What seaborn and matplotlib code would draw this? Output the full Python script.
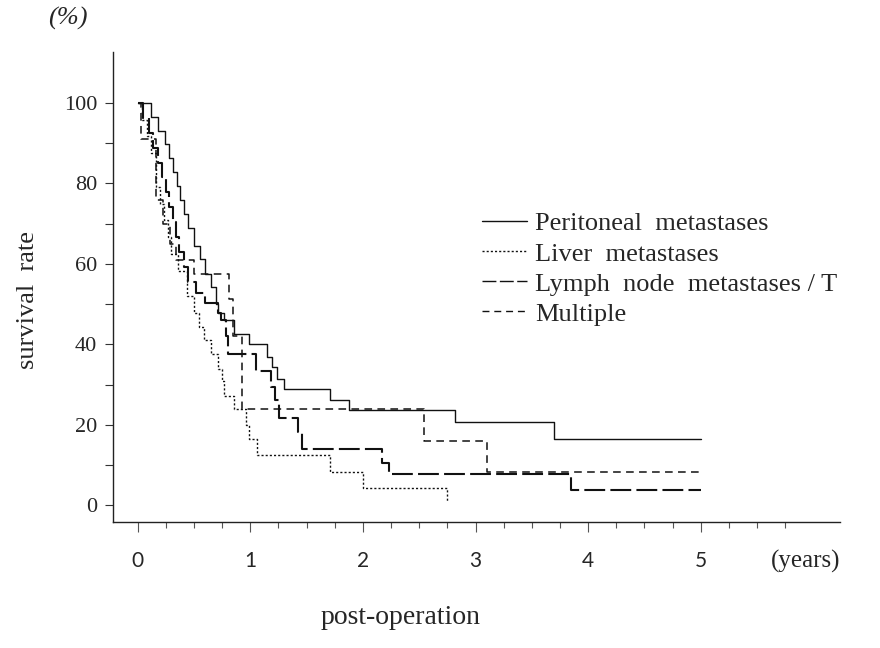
import numpy as np
import pandas as pd
import matplotlib
matplotlib.use("Agg")
import matplotlib.pyplot as plt
from matplotlib.ticker import FixedLocator
import seaborn as sns

# survival curves (step times in years, survival in %)
peri_t = [0, 0.12, 0.18, 0.24, 0.28, 0.31, 0.35, 0.38, 0.41, 0.45, 0.5, 0.55, 0.6, 0.65,
          0.695, 0.715, 0.77, 0.86, 0.99, 1.15, 1.19, 1.24, 1.30, 1.71, 1.88, 2.82, 3.70, 5.0]
peri_s = [100, 96.6, 93.1, 89.7, 86.2, 82.8, 79.3, 75.9, 72.4, 69.0, 64.5, 61.1, 57.6, 54.2,
          50.0, 47.7, 46.0, 42.7, 40.0, 36.8, 34.3, 31.4, 28.8, 26.2, 23.8, 20.7, 16.5, 16.5]

liver_t = [0, 0.04, 0.08, 0.12, 0.16, 0.2, 0.23, 0.27, 0.3, 0.36, 0.44, 0.5, 0.545, 0.59,
           0.65, 0.71, 0.75, 0.77, 0.855, 0.96, 0.99, 1.06, 1.71, 2.0, 2.75]
liver_s = [100, 95.8, 91.7, 87.5, 79.2, 75.0, 70.8, 66.7, 62.5, 58.3, 52.0, 47.7, 44.3, 41.0,
           37.7, 34.0, 31.0, 27.3, 24.0, 20.0, 16.5, 12.4, 8.3, 4.2, 0.8]

lymph_t = [0, 0.05, 0.1, 0.14, 0.18, 0.22, 0.25, 0.28, 0.31, 0.34, 0.37, 0.41, 0.45, 0.52,
           0.6, 0.71, 0.74, 0.785, 0.80, 1.05, 1.18, 1.22, 1.255, 1.42, 1.46, 2.17, 2.23, 3.85, 5.0]
lymph_s = [100, 96.3, 92.6, 88.9, 85.2, 81.5, 77.8, 74.1, 70.4, 66.7, 63.0, 59.3, 55.6, 52.7,
           50.2, 47.7, 46.0, 42.2, 37.7, 33.3, 29.4, 26.3, 21.7, 18.2, 14.0, 10.5, 7.7, 3.9, 3.9]

mult_t = [0, 0.03, 0.16, 0.225, 0.29, 0.34, 0.5, 0.81, 0.85, 0.93, 2.54, 3.1, 5.0]
mult_s = [100, 91, 76, 70, 65, 61, 57.5, 51.4, 42.2, 24, 16, 8.3, 8.3]

labels = ["Peritoneal  metastases", "Liver  metastases",
          "Lymph  node  metastases / T", "Multiple"]
x_ticks = [0, 1, 2, 3, 4, 5]
x_minor = [0.25, 0.5, 0.75, 1.25, 1.5, 1.75, 2.25, 2.5, 2.75, 3.25, 3.5, 3.75,
           4.25, 4.5, 4.75, 5.25, 5.5, 5.75]
y_ticks = [0, 20, 40, 60, 80, 100]
y_minor = [10, 30, 50, 70, 90]

curves = [(peri_t, peri_s, "-", 1.0),
          (liver_t, liver_s, (0, (1.5, 1.5)), 1.0),
          (lymph_t, lymph_s, (0, (10, 2.5)), 1.5),
          (mult_t, mult_s, (0, (5, 3.5)), 1.1)]

sns.set_style("white")
plt.rcParams['font.family'] = ['Liberation Serif', 'DejaVu Serif']

fig = plt.figure(figsize=(8.8, 6.48), dpi=100)
ax = fig.add_axes([0.128, 0.194, 0.827, 0.726])

for (t, s, ls, lw), lab in zip(curves, labels):
    df = pd.DataFrame({"t": t, "s": s})
    sns.lineplot(data=df, x="t", y="s", ax=ax, color="#111111", linestyle=ls,
                 linewidth=lw, drawstyle="steps-post", estimator=None, sort=False,
                 label=lab)

ax.set_xlim(-0.222, 6.24)
ax.set_ylim(-4.2, 112.7)
sns.despine(ax=ax)
for sp in ["left", "bottom"]:
    ax.spines[sp].set_color("#222222")
    ax.spines[sp].set_linewidth(1.0)

ax.set_yticks(y_ticks)
ax.set_yticklabels([str(v) for v in y_ticks], fontsize=16)
ax.yaxis.set_minor_locator(FixedLocator(y_minor))
ax.set_xticks(x_ticks)
ax.set_xticklabels([str(v) for v in x_ticks], fontsize=15, family=["Lato", "DejaVu Sans"])
ax.xaxis.set_minor_locator(FixedLocator(x_minor))
ax.tick_params(axis="y", which="both", direction="out", length=6, width=0.8,
               color="#333333", left=True, pad=5)
ax.tick_params(axis="x", which="major", direction="out", length=7, width=0.8,
               color="#555555", bottom=True, pad=14)
ax.tick_params(axis="x", which="minor", direction="out", length=4, width=0.8,
               color="#555555", bottom=True)

ax.set_xlabel("")
ax.set_ylabel("")
fig.text(0.032, 0.537, "survival  rate", fontsize=19, rotation=90, ha="center", va="center")
fig.text(0.455, 0.047, "post-operation", fontsize=20, ha="center", va="center")
fig.text(0.055, 0.99, "(%)", fontsize=19, style="italic", ha="left", va="top")
fig.text(0.955, 0.133, "(years)", fontsize=18, ha="right", va="center")

leg = ax.legend(loc="upper left", bbox_to_anchor=(0.475, 0.71), frameon=False,
                fontsize=19, handlelength=1.7, handletextpad=0.3, labelspacing=0.25)
for h in leg.get_lines():
    h.set_linewidth(1.0)

fig.savefig("out.png", dpi=100)
